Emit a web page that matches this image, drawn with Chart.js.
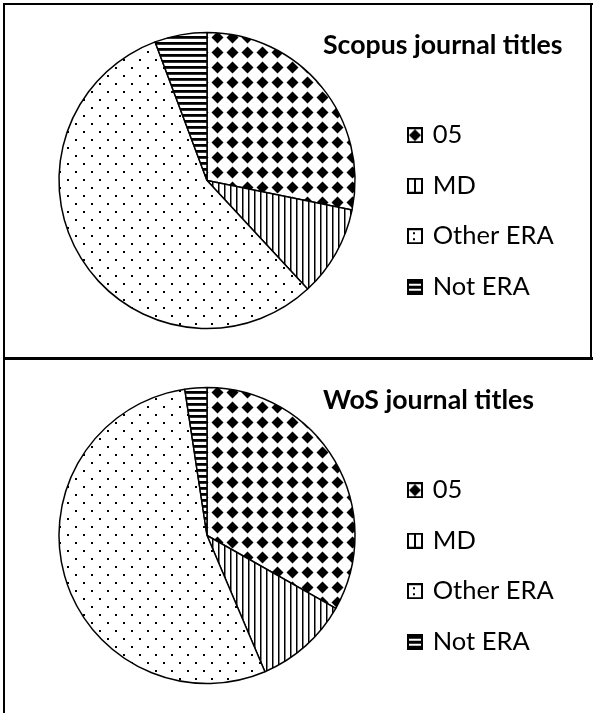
<!DOCTYPE html>
<html>
<head>
<meta charset="utf-8">
<script src="https://cdn.jsdelivr.net/npm/chart.js@4.4.1/dist/chart.umd.min.js"></script>
<style>
  html, body { margin: 0; padding: 0; background: #fff; }
  #page { position: relative; width: 593px; height: 713px; overflow: hidden; }
  .panel { position: absolute; left: 0; width: 593px; height: 355px; }
  .line { position: absolute; background: #000; }
</style>
</head>
<body>
<div id="page">
  <div class="panel" style="top:0"><canvas id="scopusChart" width="593" height="355"></canvas></div>
  <div class="panel" style="top:355px"><canvas id="wosChart" width="593" height="355"></canvas></div>
  <div class="line" style="left:3px;top:3px;width:590px;height:2px"></div>
  <div class="line" style="left:3px;top:3px;width:2px;height:710px"></div>
  <div class="line" style="left:3px;top:357px;width:590px;height:3px"></div>
  <div class="line" style="left:590px;top:3px;width:2px;height:356px"></div>
</div>
<script>
// shares of journal titles (%)
const categories = ["05", "MD", "Other ERA", "Not ERA"];
const scopusValues = [28.2, 9.9, 56.2, 5.7];
const wosValues = [33.2, 10.4, 54.0, 2.4];
const scopusTitle = "Scopus journal titles";
const wosTitle = "WoS journal titles";

const FONT = "Lato, 'Open Sans', sans-serif";
const LABEL_SIZE = 25.5;

// legend geometry (canvas px): left edge of the legend box / title, label box width
const LEGEND_LEFT = 323;
const BOX_W = 72;
const PIE_X = 207;

function makeTile(w, h, draw) {
  const c = document.createElement("canvas");
  c.width = w;
  c.height = h;
  const g = c.getContext("2d");
  g.fillStyle = "#fff";
  g.fillRect(0, 0, w, h);
  g.fillStyle = "#000";
  draw(g);
  return c;
}

function diamond(g, cx, cy, r) {
  g.beginPath();
  g.moveTo(cx, cy - r);
  g.lineTo(cx + r, cy);
  g.lineTo(cx, cy + r);
  g.lineTo(cx - r, cy);
  g.closePath();
  g.fill();
}

function makePatterns(ctx) {
  const tiles = [
    makeTile(15, 15, (g) => diamond(g, 7.5, 7.5, 6)),
    makeTile(6, 6, (g) => g.fillRect(2, 0, 1.5, 6)),
    makeTile(16, 16, (g) => { g.fillRect(3, 3, 2, 2); g.fillRect(11, 11, 2, 2); }),
    makeTile(6, 6, (g) => g.fillRect(0, 0, 6, 2.8)),
  ];
  return tiles.map((t) => ctx.createPattern(t, "repeat"));
}

// the point-style image is centred in the (wide) label box, so the
// 16px marker is drawn at its right end, just before the text
function makeMarker(kind) {
  const half = 84 + 16 - (25 + BOX_W / 2);
  const w = half * 2;
  const c = document.createElement("canvas");
  c.width = w;
  c.height = 16;
  const g = c.getContext("2d");
  g.translate(w - 16, 0);
  g.fillStyle = "#fff";
  g.fillRect(0, 0, 16, 16);
  g.fillStyle = "#000";
  if (kind === 0) diamond(g, 8, 8, 6);
  if (kind === 1) g.fillRect(7, 1, 2, 14);
  if (kind === 2) { g.fillRect(6, 4, 2, 2); g.fillRect(6, 10, 2, 2); }
  if (kind === 3) {
    g.fillRect(0, 0, 16, 16);
    g.fillStyle = "#fff";
    g.fillRect(2, 5, 12, 2);
    g.fillRect(2, 10, 12, 2);
  }
  g.strokeStyle = "#000";
  g.lineWidth = 2;
  g.strokeRect(1, 1, 14, 14);
  return c;
}

function buildPie(canvasId, title, values, titleSize) {
  const canvas = document.getElementById(canvasId);
  const ctx = canvas.getContext("2d");
  const markers = categories.map((_, i) => makeMarker(i));

  ctx.font = `${LABEL_SIZE}px ${FONT}`;
  const widest = Math.max(...categories.map((c) => ctx.measureText(c).width));
  const legendWidth = 25 + BOX_W + LABEL_SIZE / 2 + widest + 10;
  const rightPad = 593 - LEGEND_LEFT - legendWidth;
  const leftPad = 2 * PIE_X - LEGEND_LEFT;

  const titleLine = titleSize * 1.2;
  const titleTop = 12.5 - titleSize / 2;

  return new Chart(canvas, {
    type: "pie",
    data: {
      labels: categories,
      datasets: [{
        data: values,
        radius: 148,
        backgroundColor: makePatterns(ctx),
        borderColor: "#000",
        borderWidth: 1.5,
      }],
    },
    options: {
      responsive: false,
      devicePixelRatio: 1,
      animation: false,
      events: [],
      layout: { padding: { top: 33, bottom: 27, left: leftPad, right: rightPad } },
      plugins: {
        tooltip: { enabled: false },
        title: { display: false },
        legend: {
          position: "right",
          align: "start",
          maxWidth: 400,
          title: {
            display: true,
            text: title,
            position: "start",
            color: "#000",
            font: { family: FONT, size: titleSize, weight: "bold", lineHeight: 1.2 },
            padding: { top: titleTop, bottom: 64.5 - titleLine - titleTop },
          },
          labels: {
            usePointStyle: true,
            pointStyleWidth: BOX_W,
            boxHeight: 16,
            padding: 25,
            color: "#000",
            font: { family: FONT, size: LABEL_SIZE },
            generateLabels: () => categories.map((text, i) => ({
              text,
              pointStyle: markers[i],
              fillStyle: "#fff",
              strokeStyle: "#000",
              lineWidth: 0,
              hidden: false,
              index: i,
            })),
          },
        },
      },
    },
  });
}

function fitTitleSize() {
  // the legend box clips its title, so keep the longer title inside it
  const g = document.createElement("canvas").getContext("2d");
  g.font = `${LABEL_SIZE}px ${FONT}`;
  const widest = Math.max(...categories.map((c) => g.measureText(c).width));
  const room = 25 + BOX_W + LABEL_SIZE / 2 + widest + 10 - 1;
  g.font = `bold 27px ${FONT}`;
  const longest = Math.max(g.measureText(scopusTitle).width, g.measureText(wosTitle).width);
  return Math.min(27, 27 * room / longest);
}

function init() {
  const titleSize = fitTitleSize();
  buildPie("scopusChart", scopusTitle, scopusValues, titleSize);
  buildPie("wosChart", wosTitle, wosValues, titleSize);
}

Promise.all([
  document.fonts.load(`bold 27px Lato`),
  document.fonts.load(`${LABEL_SIZE}px Lato`),
]).then(init, init);
</script>
</body>
</html>
